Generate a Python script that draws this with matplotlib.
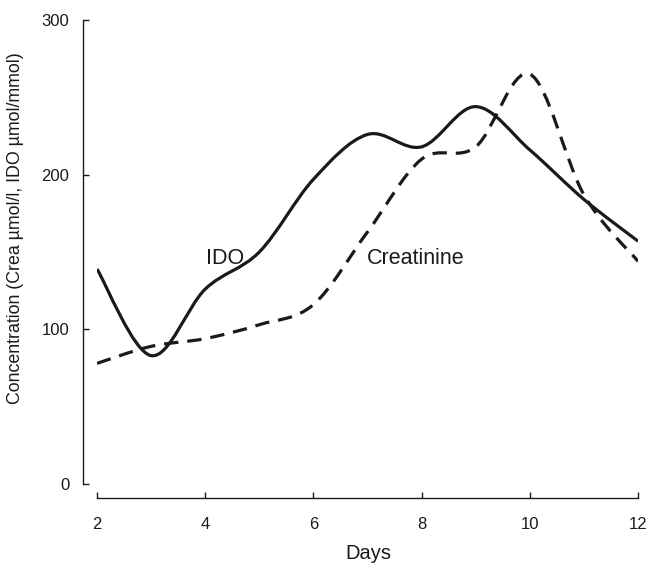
import matplotlib
matplotlib.use("Agg")
import matplotlib.pyplot as plt
from matplotlib.path import Path
from matplotlib.patches import PathPatch

plt.rcParams["font.family"] = ["Liberation Sans", "DejaVu Sans"]

# data
DAYS = [2, 3, 4, 5, 6, 7, 8, 9, 10, 11, 12]
IDO = [139, 83, 126, 150, 197, 226, 218, 244, 216, 184, 157]
CREATININE = [78, 89, 94, 103, 116, 163, 210, 218, 265, 187, 144]

X_TICKS = [2, 4, 6, 8, 10, 12]
Y_TICKS = [0, 100, 200, 300]

INK = "#1a1a1a"


def smooth_path(xs, ys):
    # Excel style smoothed line: cubic Bezier segments with Catmull-Rom control points
    pts = list(zip(xs, ys))
    n = len(pts)
    verts = [pts[0]]
    codes = [Path.MOVETO]
    for i in range(n - 1):
        p0 = pts[i - 1] if i > 0 else pts[i]
        p1 = pts[i]
        p2 = pts[i + 1]
        p3 = pts[i + 2] if i + 2 < n else pts[i + 1]
        c1 = (p1[0] + (p2[0] - p0[0]) / 6, p1[1] + (p2[1] - p0[1]) / 6)
        c2 = (p2[0] - (p3[0] - p1[0]) / 6, p2[1] - (p3[1] - p1[1]) / 6)
        verts += [c1, c2, p2]
        codes += [Path.CURVE4] * 3
    return Path(verts, codes)


fig = plt.figure(figsize=(6.48, 5.63), dpi=100)
ax = fig.add_axes([0.1497, 0.1403, 0.8349, 0.8242])

ax.add_patch(PathPatch(smooth_path(DAYS, IDO), facecolor="none",
                       edgecolor=INK, linewidth=2.3, capstyle="butt"))
ax.add_patch(PathPatch(smooth_path(DAYS, CREATININE), facecolor="none",
                       edgecolor=INK, linewidth=2.3, linestyle=(0, (4.5, 2.8)),
                       capstyle="butt"))

ax.text(4.37, 146, "IDO", fontsize=15.5, color=INK, ha="center", va="center")
ax.text(6.99, 146, "Creatinine", fontsize=15.5, color=INK, ha="left", va="center")

ax.set_xlim(2, 12)
ax.set_ylim(0, 300)
ax.set_xticks(X_TICKS)
ax.set_yticks(Y_TICKS)

for side in ["top", "right"]:
    ax.spines[side].set_visible(False)
for side in ["left", "bottom"]:
    ax.spines[side].set_position(("outward", 10))
    ax.spines[side].set_linewidth(1.0)
    ax.spines[side].set_color(INK)

ax.tick_params(axis="both", direction="in", length=4, width=1.0,
               labelsize=12, colors=INK, pad=10)
ax.tick_params(axis="x", pad=13.5)

ax.set_xlabel("Days", fontsize=14.5, color=INK)
ax.xaxis.set_label_coords(0.501, -0.149)
ax.xaxis.label.set_va("center")

ax.set_ylabel("Concentration (Crea µmol/l, IDO µmol/mmol)", fontsize=12.8,
              color=INK)
ax.yaxis.set_label_coords(-0.150, 0.552)
ax.yaxis.label.set_va("center")

fig.savefig("out.png", dpi=100)
